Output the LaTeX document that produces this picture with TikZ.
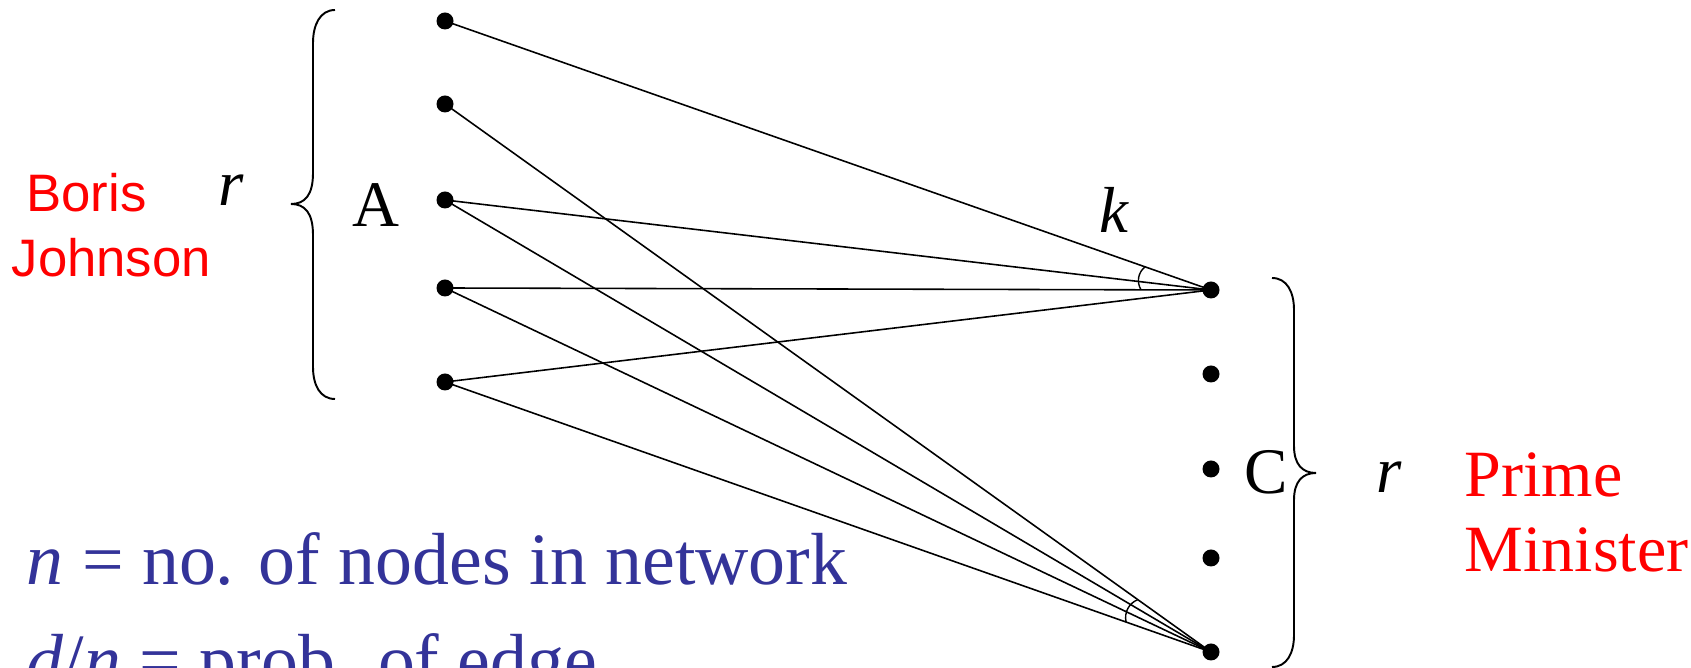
\documentclass[tikz,border=0pt]{standalone}
\usepackage{fontspec}
\setmainfont{Liberation Serif}
\newfontfamily\labelsans{Liberation Sans}
\usepackage{tikz}
\usetikzlibrary{calc}
\definecolor{navy}{HTML}{333399}
\definecolor{hot}{HTML}{FF0000}

\begin{document}
\begin{tikzpicture}[
  dot/.style={circle,fill=black,inner sep=0pt,minimum size=0.17cm},
  link/.style={line width=0.45pt},
  bracket/.style={line width=0.55pt},
  lbl/.style={anchor=base,inner sep=0pt,font=\fontsize{18.5}{22}\selectfont},
  side/.style={anchor=north west,inner sep=0pt,align=left,text=hot}]
  \clip (0,0) rectangle (16.91,-6.68);
  % left group A
  \node[dot] (a1) at (4.45,-0.21) {};
  \node[dot] (a2) at (4.45,-1.04) {};
  \node[dot] (a3) at (4.45,-2.00) {};
  \node[dot] (a4) at (4.45,-2.88) {};
  \node[dot] (a5) at (4.45,-3.82) {};
  % right group C
  \node[dot] (c1) at (12.11,-2.90) {};
  \node[dot] (c2) at (12.11,-3.74) {};
  \node[dot] (c3) at (12.11,-4.69) {};
  \node[dot] (c4) at (12.11,-5.58) {};
  \node[dot] (c5) at (12.11,-6.52) {};
  % edges
  \draw[link] (a1.center) -- (c1.center);
  \draw[link] (a2.center) -- (c5.center);
  \draw[link] (a3.center) -- (c1.center);
  \draw[link] (a3.center) -- (c5.center);
  \draw[link] (a4.center) -- (c1.center);
  \draw[link] (a4.center) -- (c5.center);
  \draw[link] (a5.center) -- (c1.center);
  \draw[link] (a5.center) -- (c5.center);
  % angle marks
  \draw[line width=0.4pt] ($(c1.center)!0.7cm!(a1.center)$) to[bend right=40] ($(c1.center)!0.7cm!(a4.center)$);
  \draw[line width=0.4pt] ($(c5.center)!0.9cm!(a2.center)$) to[bend right=40] ($(c5.center)!0.9cm!(a5.center)$);
  % braces
  \draw[bracket] (3.35,-0.10) .. controls (3.20,-0.10) and (3.13,-0.25) .. (3.13,-0.43)
    -- (3.13,-1.73) .. controls (3.13,-1.95) and (3.05,-2.04) .. (2.91,-2.04)
    .. controls (3.05,-2.04) and (3.13,-2.13) .. (3.13,-2.35)
    -- (3.13,-3.67) .. controls (3.13,-3.85) and (3.20,-3.99) .. (3.35,-3.99);
  \draw[bracket] (12.72,-2.78) .. controls (12.87,-2.78) and (12.94,-2.92) .. (12.94,-3.10)
    -- (12.94,-4.46) .. controls (12.94,-4.64) and (13.02,-4.73) .. (13.16,-4.73)
    .. controls (13.02,-4.73) and (12.94,-4.82) .. (12.94,-5.00)
    -- (12.94,-6.35) .. controls (12.94,-6.53) and (12.87,-6.67) .. (12.72,-6.67);
  % labels
  \node[lbl] (rA) at (2.31,-2.06) {\textit{r}};
  \node[lbl] (A) at (3.76,-2.27) {A};
  \node[lbl] (k) at (11.14,-2.33) {\textit{k}};
  \node[lbl] (C) at (12.66,-4.94) {C};
  \node[lbl] (rC) at (13.89,-4.93) {\textit{r}};
  \node[side,font=\labelsans\fontsize{15}{18.5}\selectfont] (boris) at (0.11,-1.73) {\hspace*{0.28em}Boris\\Johnson};
  \node[side,font=\fontsize{18.8}{21.3}\selectfont] (pm) at (14.64,-4.52) {Prime\\Minister};
  \node[anchor=north west,inner sep=0pt,align=left,text=navy,font=\fontsize{21}{28.7}\selectfont] (defs) at (0.26,-5.32)
    {\textit{n} = no. of nodes in network\\\textit{d}/\textit{n} = prob. of edge};
\end{tikzpicture}
\end{document}
